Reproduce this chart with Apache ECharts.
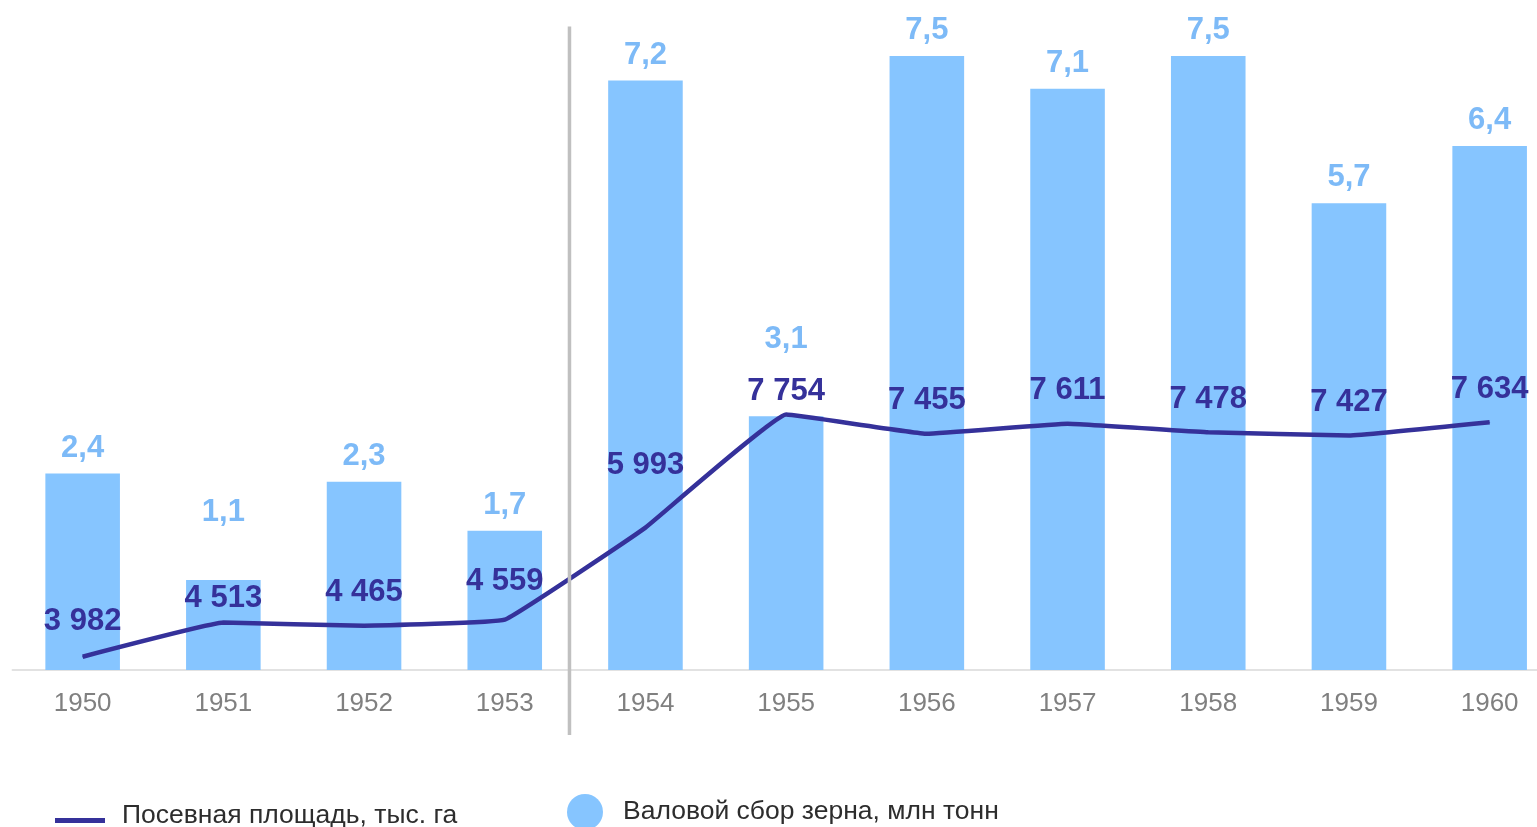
<!DOCTYPE html>
<html>
<head>
<meta charset="utf-8">
<script src="https://cdn.jsdelivr.net/npm/echarts@6/dist/echarts.min.js"></script>
<style>
html,body{margin:0;padding:0;background:#fff;overflow:hidden;}
#chart{width:1560px;height:827px;}
</style>
</head>
<body>
<div id="chart"></div>
<script>
const categories = ['1950','1951','1952','1953','1954','1955','1956','1957','1958','1959','1960'];
const grainHarvest = [2.4, 1.1, 2.3, 1.7, 7.2, 3.1, 7.5, 7.1, 7.5, 5.7, 6.4];
const sownArea = [3982, 4513, 4465, 4559, 5993, 7754, 7455, 7611, 7478, 7427, 7634];
const seriesNames = ['Посевная площадь, тыс. га', 'Валовой сбор зерна, млн тонн'];

const FONT = "'Liberation Sans', Arial, sans-serif";
const BAR_COLOR = '#86c5ff';
const BAR_LABEL_COLOR = '#7dbaf7';
const LINE_COLOR = '#35319a';

// label distance tweaks (styling only)
const lineLabelDist = {0: 19, 1: 8, 3: 22, 4: 46, 5: 7};
const barLabelDist = {1: 52, 5: 61};

const barData = grainHarvest.map((v, i) => ({
  value: v,
  label: { distance: barLabelDist[i] !== undefined ? barLabelDist[i] : 10 }
}));
const lineData = sownArea.map((v, i) => ({
  value: v,
  label: { distance: lineLabelDist[i] !== undefined ? lineLabelDist[i] : 17 }
}));

const chart = echarts.init(document.getElementById('chart'), null, {renderer: 'canvas'});
const option = {
  animation: false,
  backgroundColor: '#fff',
  textStyle: { fontFamily: FONT },
  grid: { left: 12.3, top: 15, right: 0, height: 655, containLabel: false },
  legend: [
    {
      data: [{ name: seriesNames[0], icon: 'path://M0,0 M0,10 L50,10 L50,15 L0,15 Z' }],
      left: 50, top: 797,
      itemWidth: 50, itemHeight: 15,
      textStyle: { fontFamily: FONT, fontSize: 26.5, color: '#2d2d2d', padding: [0, 0, 0, 12] },
      selectedMode: false
    },
    {
      data: [{ name: seriesNames[1], icon: 'circle' }],
      left: 562, top: 789,
      itemWidth: 36, itemHeight: 36,
      textStyle: { fontFamily: FONT, fontSize: 26.5, color: '#2d2d2d', padding: [4, 0, 0, 15] },
      selectedMode: false
    }
  ],
  xAxis: {
    type: 'category',
    data: categories,
    axisLine: { show: true, lineStyle: { color: '#d9d9d9', width: 1.5 } },
    axisTick: { show: false },
    axisLabel: { color: '#808080', fontSize: 26, fontFamily: FONT, margin: 21 },
    splitLine: { show: false }
  },
  yAxis: [
    { type: 'value', min: 0, max: 8, show: false },
    { type: 'value', min: 3775, max: 13977, show: false }
  ],
  series: [
    {
      name: seriesNames[1],
      type: 'bar',
      yAxisIndex: 0,
      data: barData,
      barCategoryGap: '47%',
      itemStyle: { color: BAR_COLOR },
      label: {
        show: true, position: 'top',
        color: BAR_LABEL_COLOR, fontSize: 31, fontWeight: 'bold', fontFamily: FONT,
        formatter: p => p.value.toFixed(1).replace('.', ',')
      },
      z: 2
    },
    {
      name: seriesNames[0],
      type: 'line',
      yAxisIndex: 1,
      data: lineData,
      smooth: 0.07,
      symbol: 'circle',
      symbolSize: 1,
      showSymbol: true,
      itemStyle: { color: LINE_COLOR },
      lineStyle: { color: LINE_COLOR, width: 4.5 },
      label: {
        show: true, position: 'top',
        color: LINE_COLOR, fontSize: 31, fontWeight: 'bold', fontFamily: FONT,
        formatter: p => String(p.value).replace(/\B(?=(\d{3})+(?!\d))/g, ' ')
      },
      z: 5
    }
  ]
};
chart.setOption(option);

// vertical divider between 1953 and 1954
const xa = chart.convertToPixel({xAxisIndex: 0}, '1953');
const xb = chart.convertToPixel({xAxisIndex: 0}, '1954');
const xDiv = xa + 0.46 * (xb - xa);
const yTop = chart.convertToPixel({yAxisIndex: 0}, 7.86);
const yBase = chart.convertToPixel({yAxisIndex: 0}, 0);
chart.setOption({
  graphic: [{
    type: 'line',
    z: 10,
    shape: { x1: xDiv, y1: yTop, x2: xDiv, y2: yBase + 65 },
    style: { stroke: '#c0c0c0', lineWidth: 3.5 }
  }]
});
</script>
</body>
</html>
